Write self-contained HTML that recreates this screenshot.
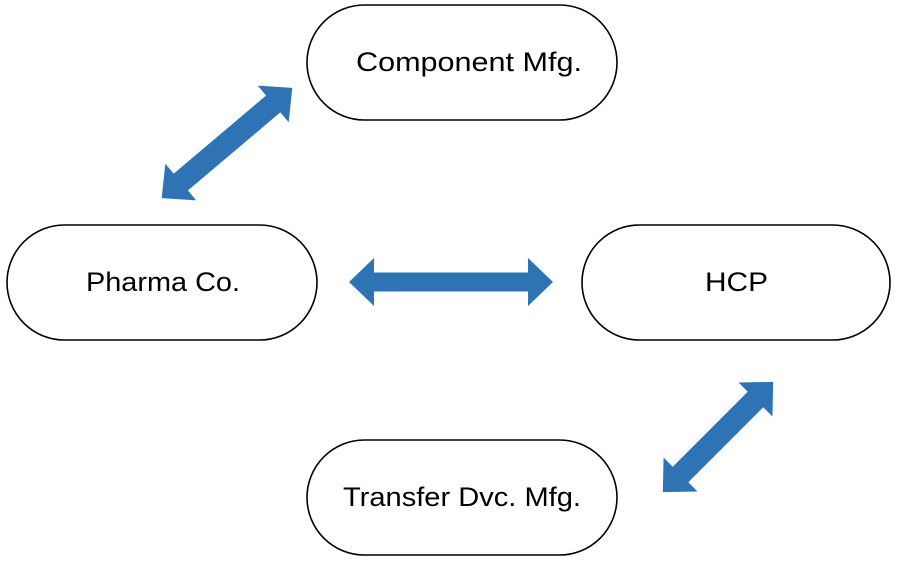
<!DOCTYPE html>
<html><head><meta charset="utf-8"><style>
html,body{margin:0;padding:0;background:#fff;}
svg{display:block}
text{font-family:"Liberation Sans",Arial,sans-serif;font-size:27px;fill:#000}
</style></head><body>
<svg width="900" height="567" viewBox="0 0 900 567">
<g fill="#fff" stroke="#000" stroke-width="1.6">
<rect x="307" y="5" width="310" height="115" rx="57.5"/>
<rect x="7" y="225" width="310" height="115" rx="57.5"/>
<rect x="582" y="225" width="308" height="115" rx="57.5"/>
<rect x="307" y="440" width="310" height="115" rx="57.5"/>
</g>
<text x="356" y="71" textLength="226" lengthAdjust="spacingAndGlyphs">Component Mfg.</text>
<text x="86" y="291" textLength="154" lengthAdjust="spacingAndGlyphs">Pharma Co.</text>
<text x="705" y="291" textLength="63" lengthAdjust="spacingAndGlyphs">HCP</text>
<text x="343" y="506" textLength="238" lengthAdjust="spacingAndGlyphs">Transfer Dvc. Mfg.</text>
<g fill="#2E74B5">
<polygon transform="translate(451,282)" points="-102,0 -77,-24 -77,-9.5 77,-9.5 77,-24 102,0 77,24 77,9.5 -77,9.5 -77,24"/>
<polygon transform="translate(227,143) rotate(-40.2)" points="-85.5,0 -60.5,-24 -60.5,-11 60.5,-11 60.5,-24 85.5,0 60.5,24 60.5,11 -60.5,11 -60.5,24"/>
<polygon transform="translate(718,437) rotate(-45)" points="-78,0 -53,-24 -53,-11 53,-11 53,-24 78,0 53,24 53,11 -53,11 -53,24"/>
</g>
</svg>
</body></html>
